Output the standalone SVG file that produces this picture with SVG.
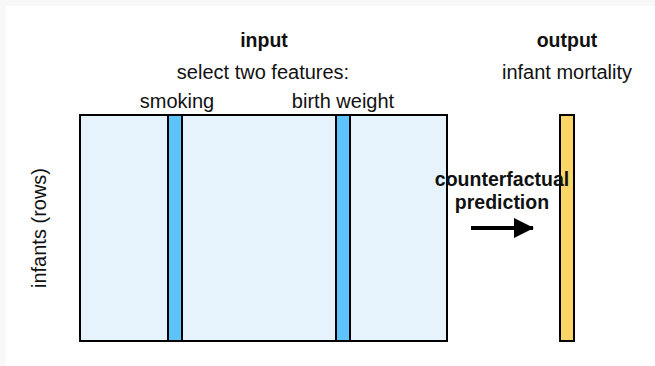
<svg xmlns="http://www.w3.org/2000/svg" width="655" height="366" viewBox="0 0 655 366">
  <style>
    text { font-family: "Liberation Sans", Arial, Helvetica, sans-serif; fill: #111; }
    .t { font-size: 20px; }
    .b { font-size: 19.5px; font-weight: bold; }
    .mid { text-anchor: middle; }
    .box { stroke: #000; stroke-width: 2; }
    .matrix { fill: #e6f3fd; }
    .feature { fill: #5ec3fc; }
    .target { fill: #fcd569; }
  </style>
  <defs>
    <marker id="head" viewBox="0 0 10 10" refX="9.5" refY="5" markerWidth="5" markerHeight="5" orient="auto" markerUnits="strokeWidth">
      <path d="M0,0 L10,5 L0,10 Z" fill="#000"/>
    </marker>
  </defs>

  <!-- canvas -->
  <rect x="0" y="0" width="655" height="366" fill="#f8f8f8"/>
  <rect x="6" y="6" width="649" height="360" fill="#fff"/>

  <!-- headings -->
  <text class="b mid" x="264" y="47">input</text>
  <text class="t mid" x="263" y="79">select two features:</text>
  <text class="b mid" x="567" y="47">output</text>
  <text class="t mid" x="567" y="79">infant mortality</text>

  <g id="data-matrix">
    <rect class="box matrix" x="80" y="115" width="367" height="226"/>
    <text class="t" transform="translate(46,228) rotate(-90)" text-anchor="middle">infants (rows)</text>
  </g>

  <g id="feature-smoking">
    <rect class="box feature" x="168" y="115" width="14" height="226"/>
    <text class="t mid" x="177" y="108">smoking</text>
  </g>

  <g id="feature-birth-weight">
    <rect class="box feature" x="336" y="115" width="14" height="226"/>
    <text class="t mid" x="343" y="108">birth weight</text>
  </g>

  <g id="output-mortality">
    <rect class="box target" x="560" y="115" width="14" height="226"/>
  </g>

  <g id="connectors">
    <line x1="471" y1="228" x2="533" y2="228" stroke="#000" stroke-width="4" marker-end="url(#head)"/>
    <text class="b mid" x="502" y="186">counterfactual</text>
    <text class="b mid" x="502" y="209">prediction</text>
  </g>
</svg>
